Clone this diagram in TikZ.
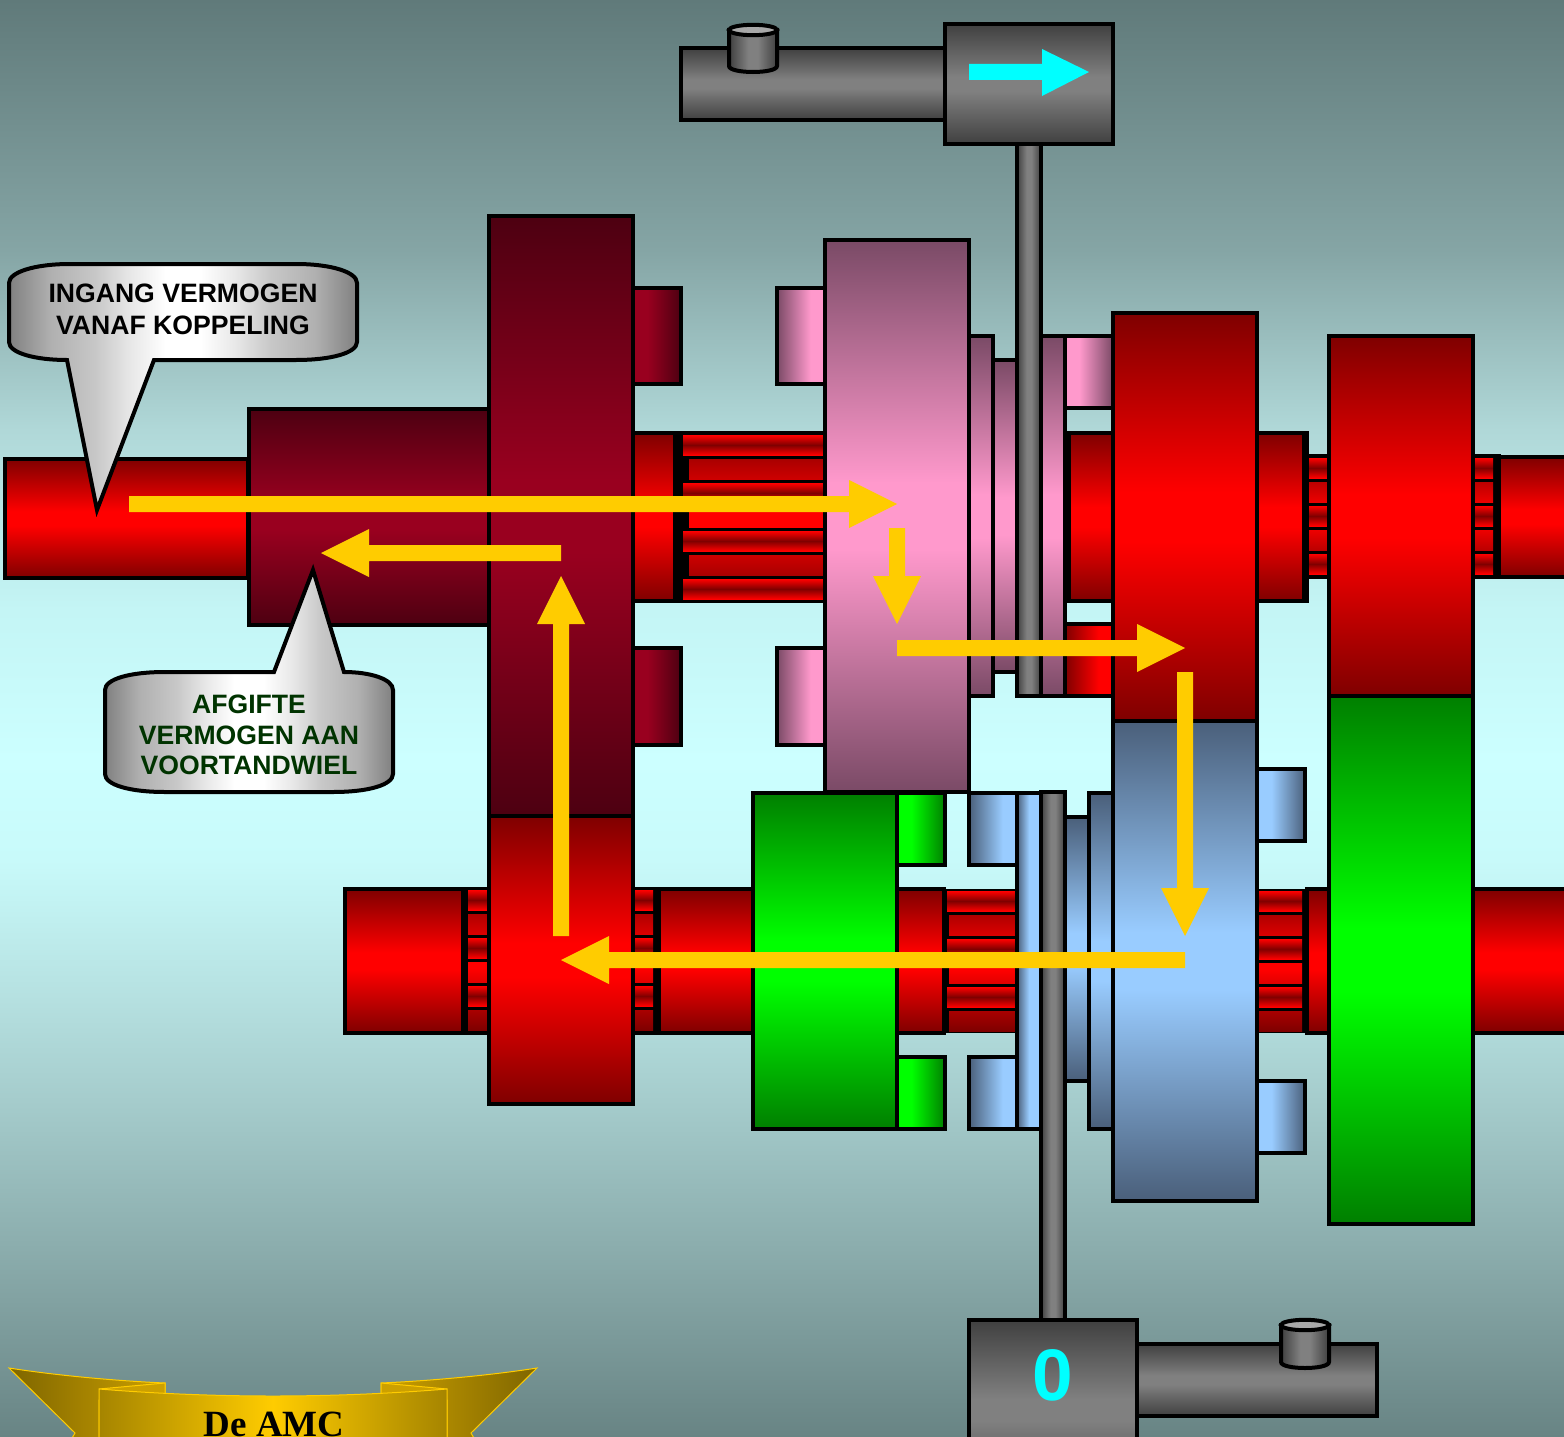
\documentclass[tikz,border=0pt]{standalone}
\usepackage{fontspec}
\setmainfont{Liberation Sans}
\newfontfamily\serifb{Liberation Serif}
\definecolor{bg0}{HTML}{607A7A}
\definecolor{bg1}{HTML}{85A5A5}
\definecolor{bg2}{HTML}{B0D8D8}
\definecolor{bg3}{HTML}{C4F5F5}
\definecolor{bg4}{HTML}{CCFFFF}
\definecolor{bg5}{HTML}{C8FAFA}
\definecolor{bg6}{HTML}{B5E0E0}
\definecolor{bg7}{HTML}{A5CCCC}
\definecolor{bg8}{HTML}{82A2A2}
\definecolor{bg9}{HTML}{688484}
\definecolor{dr}{HTML}{7F0000}
\definecolor{rm}{HTML}{FF0000}
\definecolor{mard}{HTML}{4D0011}
\definecolor{marm}{HTML}{99001F}
\definecolor{pinkd}{HTML}{7A4A66}
\definecolor{pinkm}{HTML}{FF99CC}
\definecolor{blued}{HTML}{4A5F7A}
\definecolor{bluem}{HTML}{99CCFF}
\definecolor{gd}{HTML}{007F00}
\definecolor{gm}{HTML}{00FF00}
\definecolor{gyd}{HTML}{404040}
\definecolor{gym}{HTML}{808080}
\definecolor{wh}{HTML}{FFFFFF}
\definecolor{ca}{HTML}{B0B0B0}
\definecolor{cb}{HTML}{C8C8C8}
\definecolor{cc}{HTML}{E8E8E8}
\definecolor{flow}{HTML}{FFCC00}
\definecolor{cyanx}{HTML}{00FFFF}
\definecolor{caplight}{HTML}{A8A8A8}
\definecolor{golddark}{HTML}{7F6600}
\definecolor{goldmid}{HTML}{CCA000}
\definecolor{textgreen}{HTML}{003300}
\pgfdeclareverticalshading{bgshade}{100bp}{color(0bp)=(bg9); color(25bp)=(bg9); color(29.77bp)=(bg8); color(36.72bp)=(bg7); color(40.2bp)=(bg6); color(45.07bp)=(bg5); color(48.56bp)=(bg4); color(53.78bp)=(bg3); color(60.04bp)=(bg2); color(66.3bp)=(bg1); color(75bp)=(bg0); color(100bp)=(bg0)}
% symmetric vertical gradients with a short plateau in the middle
\newcommand{\vsym}[3]{\pgfdeclareverticalshading{#1}{100bp}{color(0bp)=(#2); color(25bp)=(#2); color(47bp)=(#3); color(53bp)=(#3); color(75bp)=(#2); color(100bp)=(#2)}}
\vsym{vreds}{dr}{rm}
\vsym{vmars}{mard}{marm}
\vsym{vpinks}{pinkd}{pinkm}
\vsym{vblues}{blued}{bluem}
\vsym{vgreens}{gd}{gm}
\vsym{vgreys}{gyd}{gym}
% one-sided horizontal gradients: bright plateau, then dark
\newcommand{\hside}[3]{\pgfdeclarehorizontalshading{#1}{100bp}{color(0bp)=(#2); color(25bp)=(#2); color(40bp)=(#2); color(75bp)=(#3); color(100bp)=(#3)}}
\newcommand{\hsider}[3]{\pgfdeclarehorizontalshading{#1}{100bp}{color(0bp)=(#2); color(25bp)=(#2); color(60bp)=(#3); color(75bp)=(#3); color(100bp)=(#3)}}
\hside{hmars}{marm}{mard}
\hside{hpinkrs}{pinkm}{pinkd}
\hsider{hpinkls}{pinkd}{pinkm}
\hsider{hredis}{dr}{rm}
\hside{hgreens}{gm}{gd}
\hsider{hbluels}{blued}{bluem}
\hside{hbluers}{bluem}{blued}
\pgfdeclarehorizontalshading{hcollars}{100bp}{color(0bp)=(blued); color(25bp)=(blued); color(50bp)=(bluem); color(75bp)=(bluem); color(100bp)=(bluem)}
\pgfdeclarehorizontalshading{hgreys}{100bp}{color(0bp)=(gyd); color(25bp)=(gyd); color(45bp)=(gym); color(55bp)=(gym); color(75bp)=(gyd); color(100bp)=(gyd)}
\pgfdeclarehorizontalshading{hcalls}{100bp}{color(0bp)=(gym); color(25bp)=(gym); color(31bp)=(ca); color(37.5bp)=(cb); color(42.5bp)=(cc); color(47.5bp)=(wh); color(52.5bp)=(wh); color(57.5bp)=(cc); color(62.5bp)=(cb); color(69bp)=(ca); color(75bp)=(gym); color(100bp)=(gym)}
\tikzset{
  bord/.style={draw=black,line width=4pt,line join=miter},
  vred/.style={shade,shading=vreds},
  vredinv/.style={top color=rm,bottom color=rm,middle color=dr},
  vmar/.style={shade,shading=vmars},
  vpink/.style={shade,shading=vpinks},
  vblue/.style={shade,shading=vblues},
  vgreen/.style={shade,shading=vgreens},
  vgrey/.style={shade,shading=vgreys},
  hgrey/.style={shade,shading=hgreys},
  hmar/.style={shade,shading=hmars},
  hpinkr/.style={shade,shading=hpinkrs},
  hpinkl/.style={shade,shading=hpinkls},
  hredi/.style={shade,shading=hredis},
  hgreen/.style={shade,shading=hgreens},
  hbluel/.style={shade,shading=hbluels},
  hbluer/.style={shade,shading=hbluers},
  hcollar/.style={shade,shading=hcollars},
  callout/.style={shade,shading=hcalls,bord},
  calltext/.style={font=\bfseries\fontsize{26.6}{#1}\selectfont,align=center,inner sep=0pt},
  flowarrow/.style={fill=flow,draw=none},
  goldline/.style={draw=flow,line width=1pt,line join=miter},
}
\newcommand{\bx}[5]{\path[#1,bord] (#2,#3) rectangle (#4,#5);}
% spline block: xA left, xB left, x right, y top, rows
\newcommand{\spl}[5]{%
  \pgfmathtruncatemacro{\lastrow}{#5-1}%
  \pgfmathsetmacro{\ybot}{#4+24*#5-4}%
  \foreach \k in {0,...,\lastrow}{%
    \pgfmathsetmacro{\ya}{#4+24*\k}%
    \pgfmathsetmacro{\yb}{\ya+20}%
    \ifodd\k\relax
      \begin{scope}
        \clip (#2,\ya) rectangle (#3,\yb);
        \shade[vred] (#2,#4) rectangle (#3,\ybot);
      \end{scope}
    \else
      \shade[vredinv] (#1,\ya) rectangle (#3,\yb);
    \fi
  }%
}
\begin{document}
\begin{tikzpicture}[x=1pt,y=-1pt]
\useasboundingbox (0,0) rectangle (1564,1437);
\shade[shading=bgshade] (0,0) rectangle (1564,1437);

% ---- upper shaft
\bx{vred}{5}{459}{248}{578}
\bx{vmar}{249}{409}{489}{625}
\bx{vred}{633}{433}{675}{601}
\fill[black] (675,431) rectangle (825,603);
\spl{683}{689}{823}{435}{7}
\bx{hmar}{633}{288}{681}{384}
\bx{hmar}{633}{648}{681}{745}
\bx{vmar}{489}{216}{633}{816}
\bx{hpinkl}{777}{288}{825}{384}
\bx{hpinkl}{777}{648}{825}{745}
\bx{vpink}{825}{240}{969}{792}
\bx{vpink}{969}{336}{993}{696}
\bx{vpink}{993}{360}{1017}{672}
\bx{vpink}{1041}{336}{1065}{696}
\bx{hpinkr}{1065}{336}{1113}{408}
\bx{hredi}{1065}{624}{1113}{696}
\bx{vred}{1069}{433}{1113}{601}
\fill[black] (1063,431) rectangle (1071,603);
\bx{vred}{1257}{433}{1304}{601}
\fill[black] (1302,431) rectangle (1309,603);
\fill[black] (1307,454) rectangle (1329,579);
\spl{1309}{1309}{1327}{458}{5}
\bx{vred}{1113}{313}{1257}{721}
\fill[black] (1473,454) rectangle (1501,579);
\spl{1475}{1475}{1493}{458}{5}
\bx{vred}{1499}{457}{1570}{577}
\bx{vred}{1329}{336}{1473}{696}

% ---- lower shaft
\bx{vred}{345}{889}{463}{1033}
\fill[black] (461,887) rectangle (489,1035);
\spl{468}{468}{487}{890}{6}
\fill[black] (633,887) rectangle (661,1035);
\spl{635}{635}{653}{890}{6}
\bx{vred}{659}{889}{753}{1033}
\bx{vred}{489}{816}{633}{1104}
\bx{vred}{896}{889}{944}{1033}
\fill[black] (942,889) rectangle (1017,1033);
\spl{947}{949}{1015}{891}{6}
\bx{vgreen}{753}{793}{897}{1129}
\bx{hgreen}{897}{793}{945}{865}
\bx{hgreen}{897}{1057}{945}{1129}
\bx{hbluel}{969}{793}{1017}{865}
\bx{hbluel}{969}{1057}{1017}{1129}
\bx{hcollar}{1017}{793}{1041}{1129}
\bx{vblue}{1065}{817}{1089}{1081}
\bx{vblue}{1089}{793}{1113}{1129}
\fill[black] (1257,889) rectangle (1329,1033);
\spl{1259}{1259}{1302}{891}{6}
\bx{vred}{1307}{889}{1329}{1033}
\bx{hbluer}{1257}{769}{1305}{841}
\bx{hbluer}{1257}{1081}{1305}{1153}
\bx{vblue}{1113}{721}{1257}{1201}
\bx{vred}{1473}{889}{1570}{1033}
\bx{vgreen}{1329}{696}{1473}{1224}

% ---- shift forks and actuators
\bx{hgrey}{1017}{144}{1041}{696}
\bx{vgrey}{681}{48}{945}{120}
\path[hgrey,bord] (729,30) -- (729,66) .. controls (729,74) and (777,74) .. (777,66) -- (777,30) -- cycle;
\draw[bord,fill=caplight] (753,30) ellipse [x radius=24,y radius=5.2];
\bx{vgrey}{945}{24}{1113}{144}
\fill[cyanx] (969,64) -- (1042,64) -- (1042,49) -- (1089,72) -- (1042,96) -- (1042,80) -- (969,80) -- cycle;

\bx{hgrey}{1041}{792}{1065}{1320}
\bx{vgrey}{1137}{1344}{1377}{1416}
\path[hgrey,bord] (1281,1325) -- (1281,1362) .. controls (1281,1370) and (1329,1370) .. (1329,1362) -- (1329,1325) -- cycle;
\draw[bord,fill=caplight] (1305,1325) ellipse [x radius=24,y radius=5.2];
\bx{vgrey}{969}{1320}{1137}{1500}
\node[text=cyanx,font=\bfseries\fontsize{73}{73}\selectfont,inner sep=0pt] (neutral) at (1053,1375) {0};

% ---- power flow arrows
\fill[flowarrow] (129,496) -- (849,496) -- (849,480) -- (897,504) -- (849,528) -- (849,512) -- (129,512) -- cycle;
\fill[flowarrow] (889,528) -- (905,528) -- (905,576) -- (921,576) -- (897,624) -- (873,576) -- (889,576) -- cycle;
\fill[flowarrow] (897,640) -- (1137,640) -- (1137,624) -- (1185,648) -- (1137,672) -- (1137,656) -- (897,656) -- cycle;
\fill[flowarrow] (1177,672) -- (1193,672) -- (1193,888) -- (1209,888) -- (1185,936) -- (1161,888) -- (1177,888) -- cycle;
\fill[flowarrow] (1185,952) -- (609,952) -- (609,936) -- (561,960) -- (609,984) -- (609,968) -- (1185,968) -- cycle;
\fill[flowarrow] (553,936) -- (553,624) -- (537,624) -- (561,576) -- (585,624) -- (569,624) -- (569,936) -- cycle;
\fill[flowarrow] (561,545) -- (369,545) -- (369,529) -- (321,553) -- (369,577) -- (369,561) -- (561,561) -- cycle;

% ---- callouts
\path[callout] (9,283) .. controls (9,272) and (35,264) .. (70,264) -- (296,264) .. controls (331,264) and (357,272) .. (357,283) -- (357,342) .. controls (357,353) and (331,360) .. (296,360) -- (154,360) -- (97,510) -- (67,360) .. controls (35,360) and (9,353) .. (9,342) -- cycle;
\node[calltext=32,text=black] (incall) at (183,309) {INGANG VERMOGEN\\VANAF KOPPELING};
\path[callout] (105,690) .. controls (105,679) and (130,672) .. (165,672) -- (274,672) -- (313,570) -- (344,672) .. controls (370,672) and (393,679) .. (393,690) -- (393,774) .. controls (393,785) and (368,792) .. (333,792) -- (165,792) .. controls (130,792) and (105,785) .. (105,774) -- cycle;
\node[calltext=30.5,text=textgreen] (outcall) at (249,735) {AFGIFTE\\VERMOGEN AAN\\VOORTANDWIEL};

% ---- ribbon
\path[goldline,left color=golddark,right color=goldmid] (9,1368) .. controls (60,1376) and (120,1381) .. (165,1383) -- (165,1400) -- (99,1400) -- (99,1445) -- (68,1445) -- (75,1433) -- cycle;
\path[goldline,left color=goldmid,right color=golddark] (537,1368) .. controls (486,1376) and (426,1381) .. (381,1383) -- (381,1400) -- (447,1400) -- (447,1445) -- (478,1445) -- (471,1433) -- cycle;
\path[goldline,fill=goldmid] (165,1383) -- (99,1389) -- (165,1396) -- cycle;
\path[goldline,fill=goldmid] (381,1383) -- (447,1389) -- (381,1396) -- cycle;
\path[goldline,left color=golddark!70!flow,right color=golddark!70!flow,middle color=flow] (99,1389) .. controls (160,1394) and (220,1396) .. (273,1396) .. controls (326,1396) and (386,1394) .. (447,1389) -- (447,1445) -- (99,1445) -- cycle;
\node[font=\serifb\bfseries\fontsize{37}{37}\selectfont,text=black,inner sep=0pt,anchor=base] (amc) at (274,1436) {De AMC};
\end{tikzpicture}
\end{document}
